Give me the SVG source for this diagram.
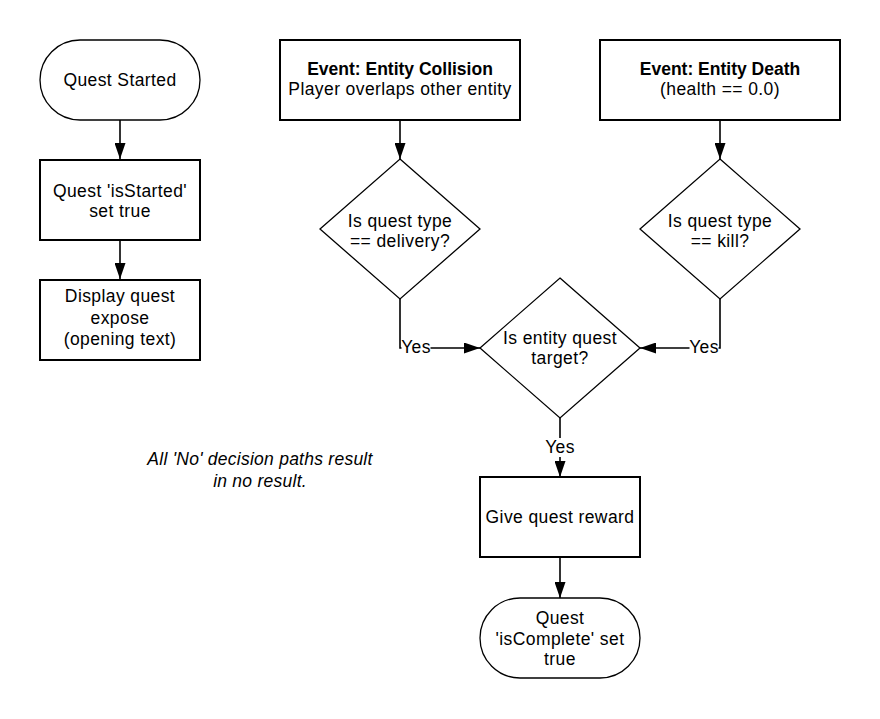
<svg xmlns="http://www.w3.org/2000/svg" width="880" height="719" viewBox="0 0 880 719">
<style>
  .box { fill: #ffffff; stroke: #000000; stroke-width: 2; }
  .thin { fill: #ffffff; stroke: #000000; stroke-width: 1.3; }
  .t { font-family: "Liberation Sans", Arial, sans-serif; font-size: 17.5px; letter-spacing: 0.4px; fill: #000000; text-anchor: middle; }
  .b { font-weight: bold; letter-spacing: 0; }
  .i { font-style: italic; letter-spacing: 0.25px; }
  .c { fill: none; stroke: #000000; stroke-width: 1.6; }
  .lbl { fill: #ffffff; stroke: none; }
</style>
<defs>
  <marker id="ah" markerUnits="userSpaceOnUse" markerWidth="16" markerHeight="11" refX="16" refY="5.5" orient="auto">
    <path d="M0,0 L16,5.5 L0,11 Z" fill="#000000"/>
  </marker>
</defs>
<rect width="880" height="719" fill="#ffffff"/>

<g id="connectors">
  <path class="c" d="M120,120 L120,159" marker-end="url(#ah)"/>
  <path class="c" d="M120,240 L120,279" marker-end="url(#ah)"/>
  <path class="c" d="M400,120 L400,159" marker-end="url(#ah)"/>
  <path class="c" d="M720,120 L720,159" marker-end="url(#ah)"/>
  <path class="c" d="M400,299 L400,348 L480,348" marker-end="url(#ah)"/>
  <path class="c" d="M720,299 L720,348 L640,348" marker-end="url(#ah)"/>
  <path class="c" d="M560,418 L560,477" marker-end="url(#ah)"/>
  <path class="c" d="M560,557 L560,598" marker-end="url(#ah)"/>
  <g id="label-yes-left">
    <rect class="lbl" x="401.5" y="339" width="29" height="18"/>
    <text class="t" x="416" y="353">Yes</text>
  </g>
  <g id="label-yes-right">
    <rect class="lbl" x="689.5" y="339" width="29" height="18"/>
    <text class="t" x="704" y="353">Yes</text>
  </g>
  <g id="label-yes-down">
    <rect class="lbl" x="545.5" y="438" width="29" height="19"/>
    <text class="t" x="560" y="453">Yes</text>
  </g>
</g>

<g id="quest-started">
  <rect class="thin" x="40" y="40" width="160" height="80" rx="40" ry="40"/>
  <text class="t" x="120" y="86">Quest Started</text>
</g>

<g id="is-started">
  <rect class="box" x="40" y="160" width="160" height="80"/>
  <text class="t" x="120" y="196.5">Quest 'isStarted'<tspan x="120" dy="20">set true</tspan></text>
</g>

<g id="display-expose">
  <rect class="box" x="40" y="280" width="160" height="80"/>
  <text class="t" x="120" y="302">Display quest<tspan x="120" dy="21.5">expose</tspan><tspan x="120" dy="21.5">(opening text)</tspan></text>
</g>

<g id="event-collision">
  <rect class="box" x="280" y="40" width="240" height="80"/>
  <text class="t" x="400" y="75"><tspan class="b">Event: Entity Collision</tspan><tspan x="400" dy="20">Player overlaps other entity</tspan></text>
</g>

<g id="event-death">
  <rect class="box" x="600" y="40" width="240" height="80"/>
  <text class="t" x="720" y="75"><tspan class="b">Event: Entity Death</tspan><tspan x="720" dy="20">(health == 0.0)</tspan></text>
</g>

<g id="dec-delivery">
  <polygon class="thin" points="400,159 480,229 400,299 320,229"/>
  <text class="t" x="400" y="227">Is quest type<tspan x="400" dy="20">== delivery?</tspan></text>
</g>

<g id="dec-kill">
  <polygon class="thin" points="720,159 800,229 720,299 640,229"/>
  <text class="t" x="720" y="227">Is quest type<tspan x="720" dy="20">== kill?</tspan></text>
</g>

<g id="dec-target">
  <polygon class="thin" points="560,278 640,348 560,418 480,348"/>
  <text class="t" x="560" y="344">Is entity quest<tspan x="560" dy="20">target?</tspan></text>
</g>

<g id="give-reward">
  <rect class="box" x="480" y="477" width="160" height="80"/>
  <text class="t" x="560" y="523">Give quest reward</text>
</g>

<g id="quest-complete">
  <rect class="thin" x="480" y="598" width="160" height="80" rx="40" ry="40"/>
  <text class="t" x="560" y="624">Quest<tspan x="560" dy="20.5">'isComplete' set</tspan><tspan x="560" dy="20.5">true</tspan></text>
</g>

<g id="note">
  <text class="t i" x="260" y="465">All 'No' decision paths result<tspan x="260" dy="22">in no result.</tspan></text>
</g>
</svg>
